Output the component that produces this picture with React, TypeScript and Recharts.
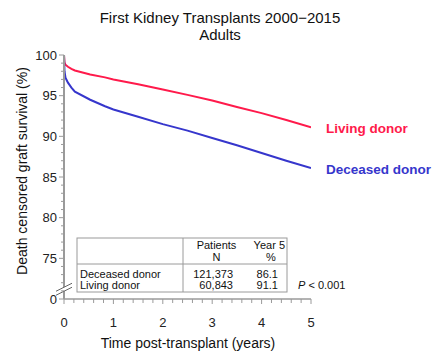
import React from 'react';
import { LineChart, Line, XAxis, YAxis, ReferenceDot } from 'recharts';

const times = [0, 0.01, 0.03, 0.08, 0.15, 0.22, 0.53, 0.83, 1.0, 1.5, 2.0, 2.5, 3.0, 3.5, 4.0, 4.5, 5.0];
const livingValues = [100, 99.1, 98.8, 98.55, 98.3, 98.1, 97.6, 97.25, 97.0, 96.4, 95.75, 95.1, 94.4, 93.6, 92.85, 92.0, 91.1];
const deceasedValues = [100, 98.0, 97.2, 96.6, 96.0, 95.5, 94.5, 93.7, 93.3, 92.4, 91.5, 90.7, 89.8, 88.9, 87.95, 87.0, 86.1];

const seriesNames = ['Living donor', 'Deceased donor'];
const seriesColors = ['#FF1A4B', '#3636CC'];

const yTicks = [70, 71, 72, 73, 74, 75, 76, 77, 78, 79, 80, 81, 82, 83, 84, 85, 86, 87, 88, 89, 90, 91, 92, 93, 94, 95, 96, 97, 98, 99, 100];
const yMajor = [70, 75, 80, 85, 90, 95, 100];
const yLabels = ['0', '75', '80', '85', '90', '95', '100'];
const xTicks = [0, 0.2, 0.4, 0.6, 0.8, 1, 1.2, 1.4, 1.6, 1.8, 2, 2.2, 2.4, 2.6, 2.8, 3, 3.2, 3.4, 3.6, 3.8, 4, 4.2, 4.4, 4.6, 4.8, 5];
const xMajor = [0, 1, 2, 3, 4, 5];
const xLabels = ['0', '1', '2', '3', '4', '5'];

const tableRowNames = ['Deceased donor', 'Living donor'];
const tablePatients = ['121,373', '60,843'];
const tableYear5 = ['86.1', '91.1'];

const breakValue = 71.2;

const FONT = '"Liberation Sans", Arial, Helvetica, sans-serif';
const AXIS = '#9a9a9a';

const livingData = times.map((t, i) => ({ t, v: livingValues[i] }));
const deceasedData = times.map((t, i) => ({ t, v: deceasedValues[i] }));

const YTick = (props: any) => {
  const { x, y, payload } = props;
  const idx = yMajor.indexOf(payload.value);
  const major = idx >= 0;
  return (
    <g>
      <line x1={x - (major ? 5 : 3)} x2={x} y1={y} y2={y} stroke={AXIS} strokeWidth={1} />
      {major && (
        <text x={x - 7} y={y} textAnchor="end" dominantBaseline="central" fontSize={13} fill="#222" fontFamily={FONT}>
          {yLabels[idx]}
        </text>
      )}
    </g>
  );
};

const XTick = (props: any) => {
  const { x, y, payload } = props;
  const idx = xMajor.findIndex((m) => Math.abs(m - payload.value) < 1e-6);
  const major = idx >= 0;
  return (
    <g>
      <line x1={x} x2={x} y1={y} y2={y + (major ? 5 : 4)} stroke={AXIS} strokeWidth={1} />
      {major && (
        <text x={x} y={y + 23} textAnchor="middle" dominantBaseline="central" fontSize={13} fill="#222" fontFamily={FONT}>
          {xLabels[idx]}
        </text>
      )}
    </g>
  );
};

const endLabel = (name: string, color: string, lastIndex: number) => (props: any) => {
  const { x, y, index } = props;
  if (index !== lastIndex) return <g />;
  return (
    <text x={x + 15} y={y + 1} dominantBaseline="central" fontSize={13.5} fontWeight="bold" fill={color} fontFamily={FONT}>
      {name}
    </text>
  );
};

const BreakShape = (props: any) => {
  const { cx, cy } = props;
  return (
    <g>
      <polygon points={`${cx - 8},${cy + 2} ${cx + 8},${cy - 6} ${cx + 8},${cy - 2} ${cx - 8},${cy + 6}`} fill="#fff" />
      <line x1={cx - 8} y1={cy + 2} x2={cx + 8} y2={cy - 6} stroke="#666" strokeWidth={1} />
      <line x1={cx - 8} y1={cy + 6} x2={cx + 8} y2={cy - 2} stroke="#666" strokeWidth={1} />
    </g>
  );
};

export default function App() {
  return (
    <div style={{ position: 'absolute', left: 0, top: 0, width: 440, height: 353, background: '#fff', fontFamily: FONT }}>
      <svg width={440} height={353} style={{ position: 'absolute', left: 0, top: 0, pointerEvents: 'none' }} fontFamily={FONT}>
        <text x={220} y={17} textAnchor="middle" dominantBaseline="central" fontSize={15} fill="#111">First Kidney Transplants 2000−2015</text>
        <text x={220} y={34} textAnchor="middle" dominantBaseline="central" fontSize={15} fill="#111">Adults</text>
        <text x={22} y={171} transform="rotate(-90 22 171)" textAnchor="middle" dominantBaseline="central" fontSize={14} fill="#111">Death censored graft survival (%)</text>
        <text x={188} y={343} textAnchor="middle" dominantBaseline="central" fontSize={14} fill="#111">Time post-transplant (years)</text>
        <rect x={77} y={238} width={210} height={54} fill="#fff" stroke={AXIS} strokeWidth={1} />
        <line x1={77} x2={287} y1={264} y2={264} stroke={AXIS} strokeWidth={1} />
        <line x1={183} x2={183} y1={238} y2={292} stroke={AXIS} strokeWidth={1} />
        <text x={216.5} y={245} textAnchor="middle" dominantBaseline="central" fontSize={11} fill="#111">Patients</text>
        <text x={216.5} y={256.5} textAnchor="middle" dominantBaseline="central" fontSize={11} fill="#111">N</text>
        <text x={285} y={245} textAnchor="end" dominantBaseline="central" fontSize={11} fill="#111">Year 5</text>
        <text x={271} y={256.5} textAnchor="middle" dominantBaseline="central" fontSize={11} fill="#111">%</text>
        {tableRowNames.map((name, i) => (
          <g key={name}>
            <text x={80} y={273.5 + i * 11.5} dominantBaseline="central" fontSize={11} fill="#111">{name}</text>
            <text x={233} y={273.5 + i * 11.5} textAnchor="end" dominantBaseline="central" fontSize={11} fill="#111">{tablePatients[i]}</text>
            <text x={278} y={273.5 + i * 11.5} textAnchor="end" dominantBaseline="central" fontSize={11} fill="#111">{tableYear5[i]}</text>
          </g>
        ))}
        <text x={298} y={285} dominantBaseline="central" fontSize={11} fill="#111">
          <tspan fontStyle="italic">P</tspan>
          <tspan> &lt; 0.001</tspan>
        </text>
      </svg>
      <div style={{ position: 'absolute', left: 0, top: 0 }}>
        <LineChart width={440} height={353} data={livingData} margin={{ top: 55, right: 129, bottom: 0, left: 0 }}>
          <XAxis
            dataKey="t"
            type="number"
            domain={[0, 5]}
            ticks={xTicks}
            interval={0}
            tickSize={0}
            tickMargin={0}
            tick={<XTick />}
            tickLine={false}
            axisLine={{ stroke: AXIS, strokeWidth: 1.5 }}
            height={54}
            allowDataOverflow
          />
          <YAxis
            type="number"
            domain={[70, 100]}
            ticks={yTicks}
            interval={0}
            tickSize={0}
            tickMargin={0}
            tick={<YTick />}
            tickLine={false}
            axisLine={{ stroke: AXIS, strokeWidth: 2 }}
            width={64}
            allowDataOverflow
          />
          <Line
            data={livingData}
            dataKey="v"
            type="linear"
            stroke={seriesColors[0]}
            strokeWidth={2}
            dot={false}
            isAnimationActive={false}
            label={endLabel(seriesNames[0], seriesColors[0], livingData.length - 1)}
          />
          <Line
            data={deceasedData}
            dataKey="v"
            type="linear"
            stroke={seriesColors[1]}
            strokeWidth={2}
            dot={false}
            isAnimationActive={false}
            label={endLabel(seriesNames[1], seriesColors[1], deceasedData.length - 1)}
          />
          <ReferenceDot x={0} y={breakValue} r={0} ifOverflow="visible" shape={<BreakShape />} />
        </LineChart>
      </div>
    </div>
  );
}
